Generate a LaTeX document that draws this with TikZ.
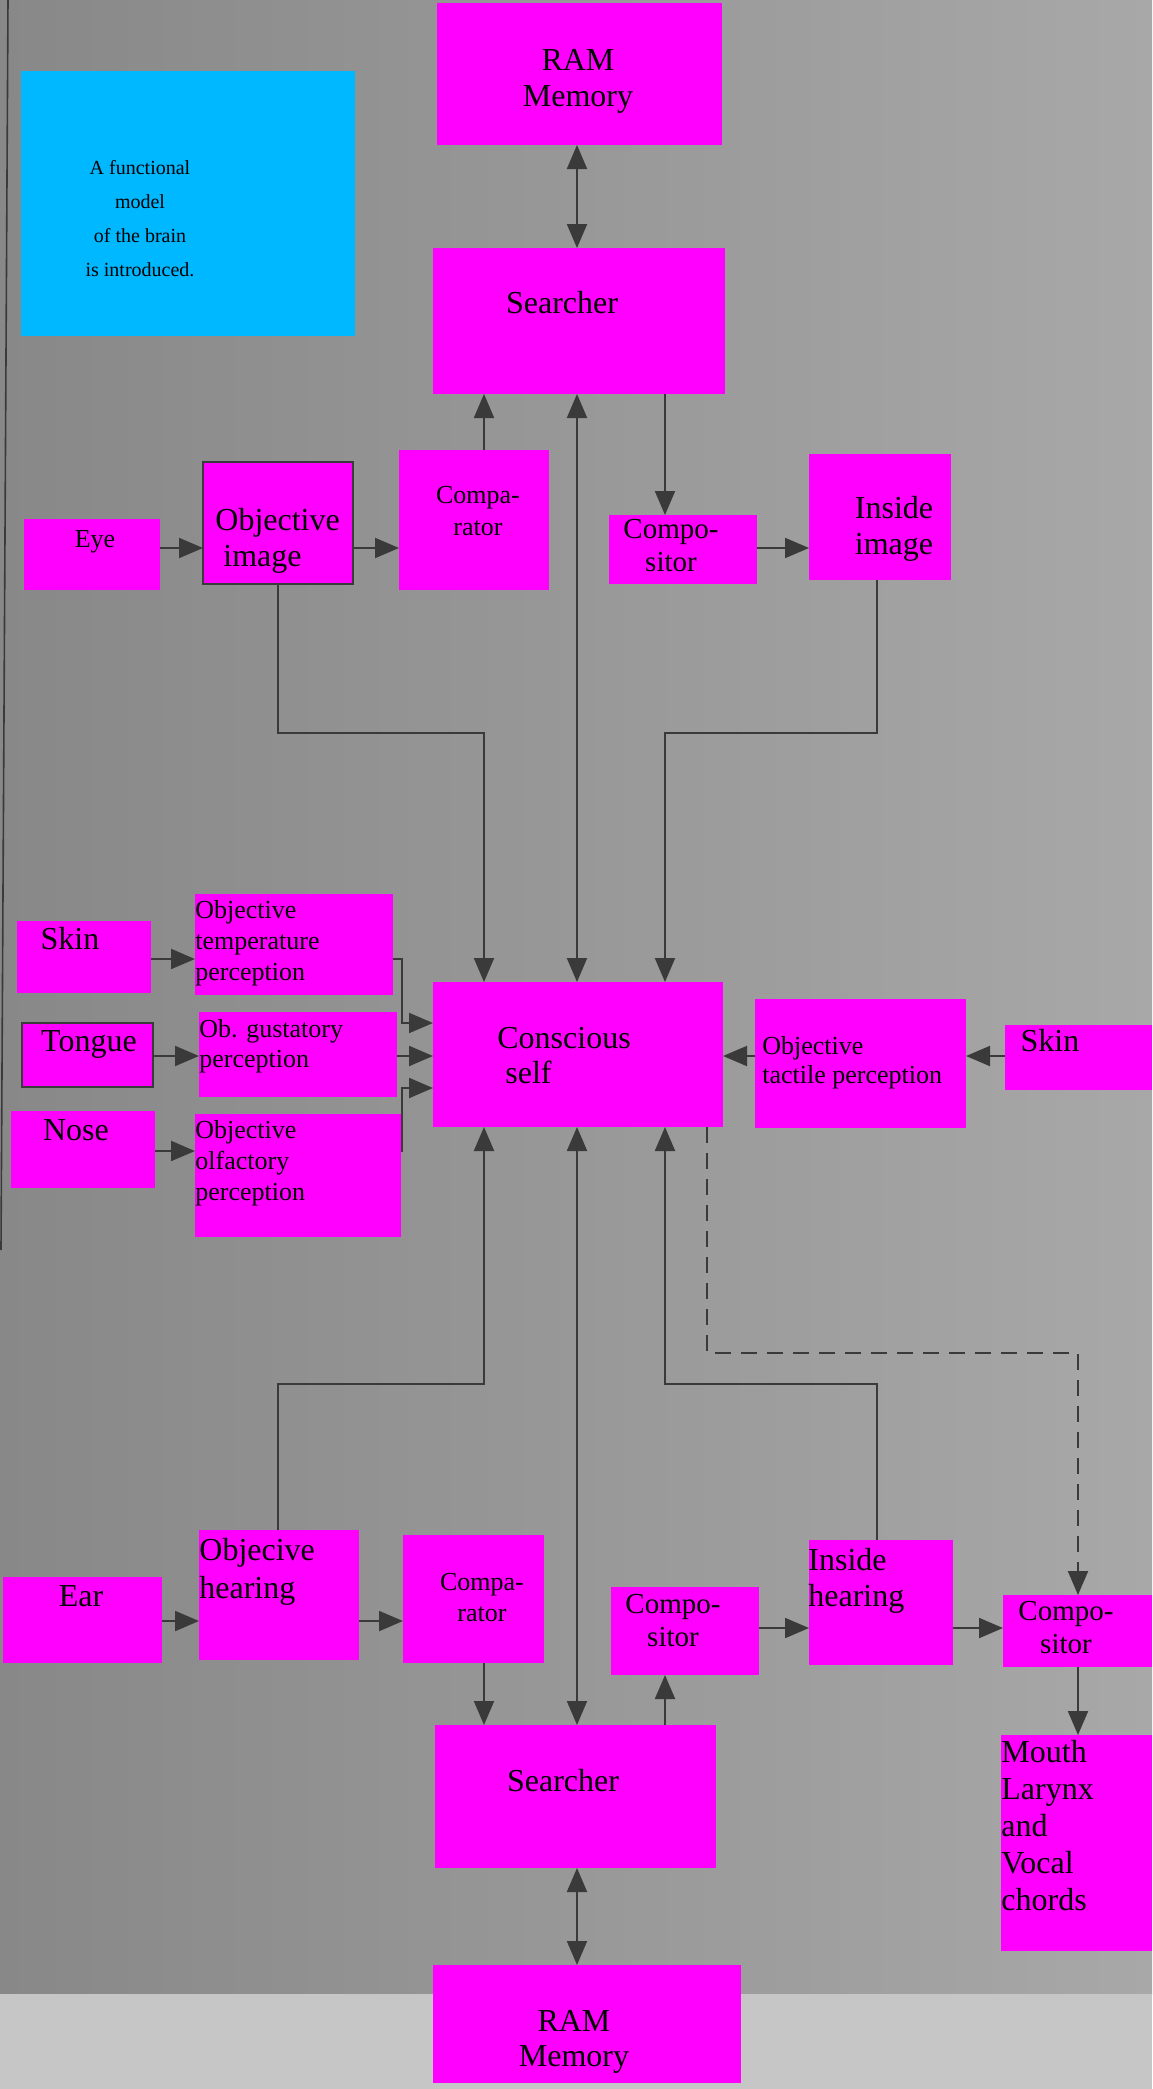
\documentclass[tikz,border=0pt]{standalone}
\usepackage{fontspec}
\setmainfont{Liberation Serif}
\usetikzlibrary{arrows.meta,fit,positioning}

\definecolor{boxmag}{HTML}{FF00FF}
\definecolor{noteblue}{HTML}{00B8FF}
\definecolor{wire}{HTML}{3A3A3A}
\definecolor{pagedark}{HTML}{888888}
\definecolor{pagelight}{HTML}{A8A8A8}
\definecolor{band}{HTML}{C6C6C6}

\tikzset{
  box/.style={fill=boxmag, inner sep=0pt, outer sep=0pt},
  framed/.style={box, draw=wire, line width=1pt},
  txtL/.style={inner sep=0pt, font=\fontsize{16}{18}\selectfont},
  txtM/.style={inner sep=0pt, font=\fontsize{14.5}{16.5}\selectfont},
  txtS/.style={inner sep=0pt, font=\fontsize{13}{15.5}\selectfont},
  flow/.style={draw=wire, line width=1pt, -{Triangle[length=12pt,width=10pt]}},
  both/.style={flow, {Triangle[length=12pt,width=10pt]}-{Triangle[length=12pt,width=10pt]}},
  dashflow/.style={flow, dash pattern=on 8pt off 5pt},
}

\begin{document}
\begin{tikzpicture}[x=0.5pt,y=-0.5pt]

    % Page
    \useasboundingbox (0,0) rectangle (1152,2089);
    \shade[left color=pagedark, right color=pagelight] (0,0) rectangle (1152,1994);
    \fill[band] (0,1994) rectangle (1152,2089);
    \draw[wire, line width=0.8pt] (8,0) -- (1,1250);

    % Boxes: upper half
    \node[box, fit={(437,3) (722,145)}] (ramT) {};
    \node[box, fill=noteblue, fit={(21,71) (355,336)}] (note) {};
    \node[box, fit={(433,248) (725,394)}] (srchT) {};
    \node[box, fit={(24,519) (160,590)}] (eye) {};
    \node[framed, fit={(203,462) (353,584)}] (objImg) {};
    \node[box, fit={(399,450) (549,590)}] (cmpT) {};
    \node[box, fit={(609,515) (757,584)}] (cmpsT) {};
    \node[box, fit={(809,454) (951,580)}] (insImg) {};

    % Boxes: middle
    \node[box, fit={(433,982) (723,1127)}] (self) {};
    \node[box, fit={(17,921) (151,993)}] (skinL) {};
    \node[box, fit={(195,894) (393,995)}] (temp) {};
    \node[framed, fit={(22,1023) (153,1087)}] (tongue) {};
    \node[box, fit={(199,1012) (397,1097)}] (gust) {};
    \node[box, fit={(11,1111) (155,1188)}] (nose) {};
    \node[box, fit={(195,1114) (401,1237)}] (olf) {};
    \node[box, fit={(755,999) (966,1128)}] (tact) {};
    \node[box, fit={(1005,1025) (1152,1090)}] (skinR) {};

    % Boxes: lower half
    \node[box, fit={(3,1577) (162,1663)}] (ear) {};
    \node[box, fit={(199,1530) (359,1660)}] (objHear) {};
    \node[box, fit={(403,1535) (544,1663)}] (cmpB) {};
    \node[box, fit={(611,1587) (759,1675)}] (cmpsM) {};
    \node[box, fit={(809,1540) (953,1665)}] (insHear) {};
    \node[box, fit={(1003,1595) (1152,1667)}] (cmpsR) {};
    \node[box, fit={(1001,1735) (1152,1951)}] (mouth) {};
    \node[box, fit={(435,1725) (716,1868)}] (srchB) {};
    \node[box, fit={(433,1965) (741,2083)}] (ramB) {};

    % Labels
    \node[txtL, align=center] (ramTt) at (578,81) {RAM\\Memory};
    \node[inner sep=0pt, align=center, font=\fontsize{10}{17}\selectfont] (notet) at (140,219)
      {A functional\\model\hspace*{8pt}\\of the brain\\is introduced.};
    \node[txtL] (srchTt) at (562,303) {Searcher};
    \node[txtS] (eyet) at (95,542) {Eye};
    \node[txtL, align=left, anchor=west] (objImgt) at (215,541) {Objective\\\hspace*{4pt}image};
    \node[txtS, align=center, font=\fontsize{13}{16}\selectfont] (cmpTt) at (478,511) {Compa-\\rator};
    \node[txtM, align=center] (cmpsTt) at (671,546) {Compo-\\sitor};
    \node[txtL, align=center] (insImgt) at (894,529) {Inside\\image};
    \node[txtL, align=left, anchor=west, font=\fontsize{16}{17.5}\selectfont] (selft) at (497,1056) {Conscious\\\hspace*{4pt}self};
    \node[txtL] (skinLt) at (70,939) {Skin};
    \node[txtS, align=left, anchor=west] (tempt) at (195,943) {Objective\\temperature\\perception};
    \node[txtL] (tonguet) at (89,1044) {Tongue};
    \node[txtS, align=left, anchor=west, font=\fontsize{13}{15}\selectfont] (gustt) at (199,1046) {Ob. gustatory\\perception};
    \node[txtL] (noset) at (76,1130) {Nose};
    \node[txtS, align=left, anchor=west] (olft) at (195,1163) {Objective\\olfactory\\perception};
    \node[txtS, align=left, anchor=west, font=\fontsize{13}{14.5}\selectfont] (tactt) at (762,1063) {Objective\\tactile perception};
    \node[txtL] (skinRt) at (1050,1041) {Skin};
    \node[txtL] (eart) at (81,1596) {Ear};
    \node[txtL, align=left, anchor=west, font=\fontsize{16}{19}\selectfont] (objHeart) at (199,1572) {Objecive\\hearing};
    \node[txtS, align=center] (cmpBt) at (482,1597) {Compa-\\rator};
    \node[txtM, align=center] (cmpsMt) at (673,1621) {Compo-\\sitor};
    \node[txtL, align=left, anchor=west] (insHeart) at (808,1581) {Inside\\hearing};
    \node[txtM, align=center] (cmpsRt) at (1066,1628) {Compo-\\sitor};
    \node[txtL, align=left, anchor=west, font=\fontsize{16}{18.5}\selectfont] (moutht) at (1001,1826) {Mouth\\Larynx\\and\\Vocal\\chords};
    \node[txtL] (srchBt) at (563,1781) {Searcher};
    \node[txtL, align=center, font=\fontsize{16}{17.5}\selectfont] (ramBt) at (574,2042) {RAM\\Memory};

    % Wire columns and rows
    \coordinate (xOI) at (278,0);
    \coordinate (xJ) at (402,0);
    \coordinate (xL) at (484,0);
    \coordinate (xM) at (577,0);
    \coordinate (xR) at (665,0);
    \coordinate (xD) at (707,0);
    \coordinate (xIn) at (877,0);
    \coordinate (xO) at (1078,0);
    \coordinate (yEye) at (0,548);
    \coordinate (yUp) at (0,733);
    \coordinate (yTmp) at (0,959);
    \coordinate (yIn1) at (0,1023);
    \coordinate (yGus) at (0,1056);
    \coordinate (yIn3) at (0,1088);
    \coordinate (yOlf) at (0,1151);
    \coordinate (yDash) at (0,1353);
    \coordinate (yLow) at (0,1384);
    \coordinate (yEar) at (0,1621);
    \coordinate (yOut) at (0,1628);

    % Upper connectors
    \draw[both] (xM |- ramT.south) -- (xM |- srchT.north);
    \draw[flow] (xL |- cmpT.north) -- (xL |- srchT.south);
    \draw[flow] (xR |- srchT.south) -- (xR |- cmpsT.north);
    \draw[both] (xM |- srchT.south) -- (xM |- self.north);
    \draw[flow] (eye.east |- yEye) -- (objImg.west |- yEye);
    \draw[flow] (objImg.east |- yEye) -- (cmpT.west |- yEye);
    \draw[flow] (cmpsT.east |- yEye) -- (insImg.west |- yEye);
    \draw[flow] (xOI |- objImg.south) -- (xOI |- yUp) -- (xL |- yUp) -- (xL |- self.north);
    \draw[flow] (xIn |- insImg.south) -- (xIn |- yUp) -- (xR |- yUp) -- (xR |- self.north);

    % Senses into the conscious self
    \draw[flow] (skinL.east |- yTmp) -- (temp.west |- yTmp);
    \draw[flow] (temp.east |- yTmp) -- (xJ |- yTmp) -- (xJ |- yIn1) -- (self.west |- yIn1);
    \draw[flow] (tongue.east |- yGus) -- (gust.west |- yGus);
    \draw[flow] (gust.east |- yGus) -- (self.west |- yGus);
    \draw[flow] (nose.east |- yOlf) -- (olf.west |- yOlf);
    \draw[flow] (olf.east |- yOlf) -- (xJ |- yOlf) -- (xJ |- yIn3) -- (self.west |- yIn3);
    \draw[flow] (skinR.west |- yGus) -- (tact.east |- yGus);
    \draw[flow] (tact.west |- yGus) -- (self.east |- yGus);

    % Lower connectors
    \draw[flow] (xOI |- objHear.north) -- (xOI |- yLow) -- (xL |- yLow) -- (xL |- self.south);
    \draw[flow] (xIn |- insHear.north) -- (xIn |- yLow) -- (xR |- yLow) -- (xR |- self.south);
    \draw[both] (xM |- srchB.north) -- (xM |- self.south);
    \draw[dashflow] (xD |- self.south) -- (xD |- yDash) -- (xO |- yDash) -- (xO |- cmpsR.north);
    \draw[flow] (ear.east |- yEar) -- (objHear.west |- yEar);
    \draw[flow] (objHear.east |- yEar) -- (cmpB.west |- yEar);
    \draw[flow] (xL |- cmpB.south) -- (xL |- srchB.north);
    \draw[flow] (xR |- srchB.north) -- (xR |- cmpsM.south);
    \draw[flow] (cmpsM.east |- yOut) -- (insHear.west |- yOut);
    \draw[flow] (insHear.east |- yOut) -- (cmpsR.west |- yOut);
    \draw[flow] (xO |- cmpsR.south) -- (xO |- mouth.north);
    \draw[both] (xM |- srchB.south) -- (xM |- ramB.north);

  \end{tikzpicture}
\end{document}
